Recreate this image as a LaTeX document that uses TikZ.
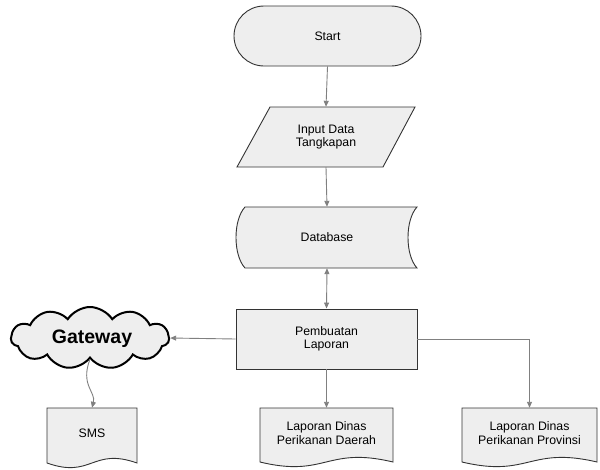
\documentclass[tikz,border=0pt]{standalone}
\usepackage{fontspec}
\setmainfont{Liberation Sans}
\usetikzlibrary{shapes.symbols,arrows.meta}
\definecolor{boxfill}{HTML}{EEEEEE}
\definecolor{linegray}{HTML}{808080}
\definecolor{edge}{HTML}{333333}
\begin{document}
\begin{tikzpicture}[x=1pt,y=-1pt,
  txt/.style={font=\fontsize{12.3}{13.5}\selectfont, align=center, inner sep=0pt},
  shapeline/.style={draw=edge, line width=0.9pt, fill=boxfill},
  conn/.style={draw=linegray, line width=0.9pt, -{Triangle[length=6pt,width=5pt]}},
  bothconn/.style={draw=linegray, line width=0.9pt, {Triangle[length=6pt,width=5pt]}-{Triangle[length=6pt,width=5pt]}},
  docbox/.style={txt, minimum height=50pt}
]
\useasboundingbox (0,0) rectangle (600,469);

% Start
\node[txt, shapeline, rounded corners=30pt, minimum width=187pt, minimum height=60pt] (start) at (327.5,36) {Start};

% Input parallelogram
\draw[shapeline] (270,107) -- (415,107) -- (383,167) -- (237,167) -- cycle;
\node[txt, minimum height=60pt] (input) at (326,137) {Input Data\\Tangkapan};

% Database (stored data)
\draw[shapeline] (245,207) -- (417,207) .. controls (405,220) and (405,255) .. (417,268)
  -- (245,268) .. controls (233,255) and (233,220) .. (245,207) -- cycle;
\node[txt, minimum height=61pt] (db) at (327,237.5) {Database};

% Pembuatan Laporan
\node[txt, shapeline, minimum width=181pt, minimum height=60pt] (proc) at (326.5,339) {Pembuatan\\Laporan};

% Gateway cloud
\node[cloud, cloud puffs=11, cloud puff arc=115, aspect=2.4, shapeline, line width=2pt, draw=black,
      minimum width=158pt, minimum height=62pt, inner sep=0pt] (gw) at (90,338) {};
\node[font=\fontsize{19.5}{22}\selectfont\bfseries, inner sep=0pt] (gwtext) at (92,339) {Gateway};

% Documents
\draw[shapeline] (47,408) -- (137,408) -- (137,463)
  .. controls (92,447) and (92,479) .. (47,463) -- cycle;
\node[docbox] (sms) at (92,433) {SMS};

\draw[shapeline] (260,408) -- (393,408) -- (393,462)
  .. controls (326,446) and (326,478) .. (260,462) -- cycle;
\node[docbox] (daerah) at (326.5,433) {Laporan Dinas\\Perikanan Daerah};

\draw[shapeline] (462,408) -- (597,408) -- (597,462)
  .. controls (529,446) and (529,478) .. (462,462) -- cycle;
\node[docbox] (prov) at (529.5,433) {Laporan Dinas\\Perikanan Provinsi};

% Connectors
\draw[conn] (start.south) -- (input.north);
\draw[conn] (input.south) -- (db.north);
\draw[bothconn] (db.south) -- (proc.north);
\draw[conn] (proc.west) -- (gw.east);
\draw[conn] (proc.south) -- (proc.south |- daerah.north);
\draw[conn] (proc.east) -| (prov.north);
\draw[conn] (gw.south) .. controls (80,385) and (96,392) .. (sms.north);
\end{tikzpicture}
\end{document}
